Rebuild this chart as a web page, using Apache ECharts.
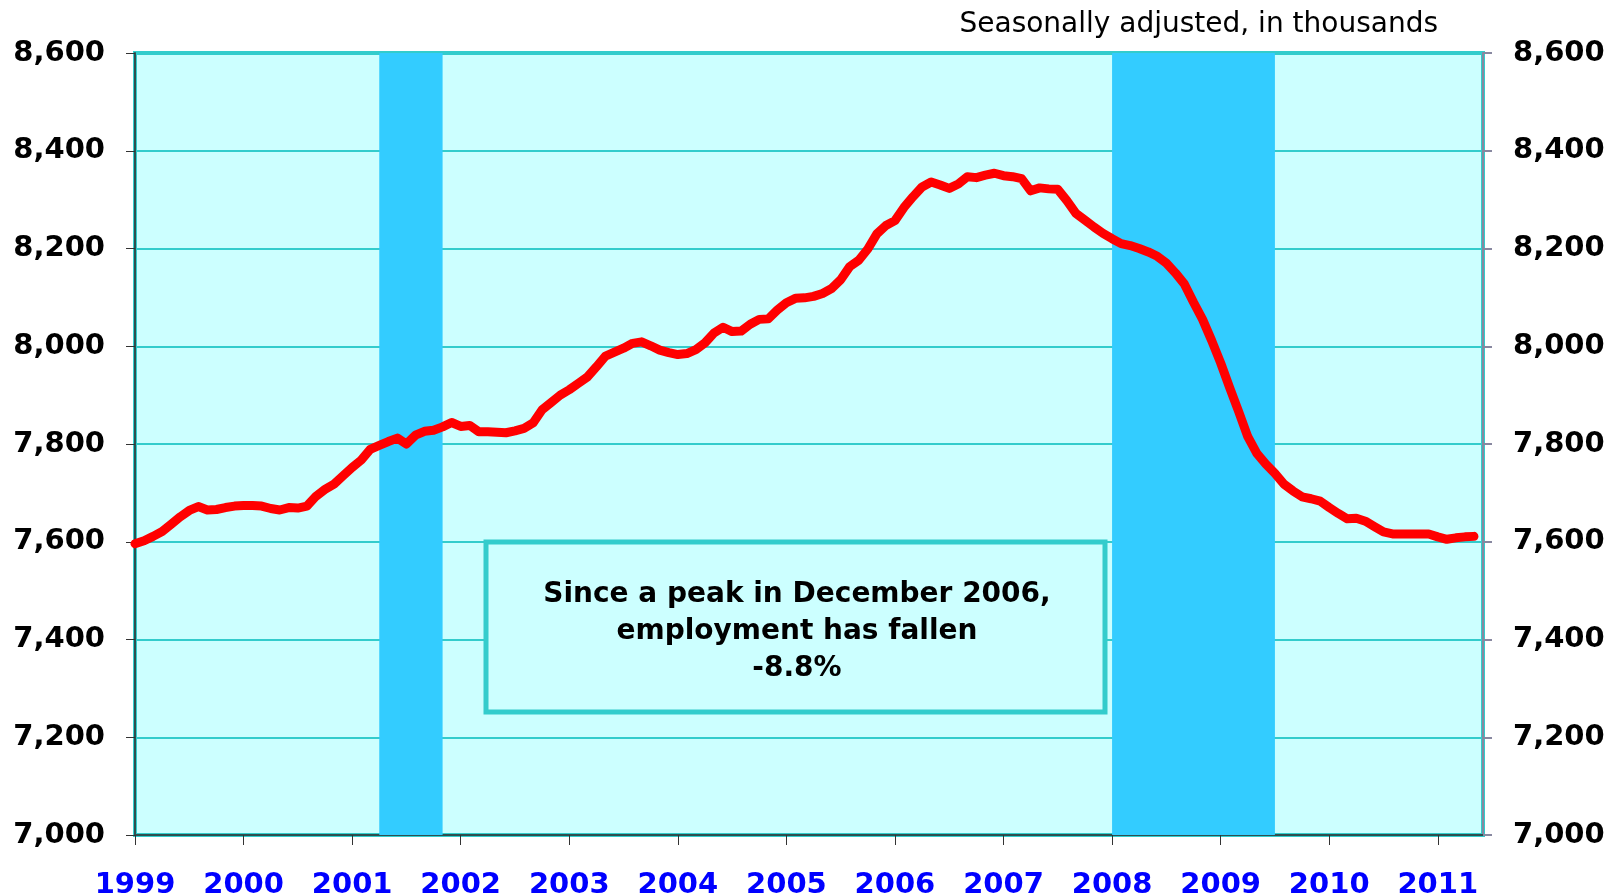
<!DOCTYPE html>
<html>
<head>
<meta charset="utf-8">
<script src="https://cdn.jsdelivr.net/npm/echarts@6/dist/echarts.min.js"></script>
<style>
  html, body { margin: 0; padding: 0; background: #fff; }
  #chart { width: 1623px; height: 895px; }
</style>
</head>
<body>
<div id="chart"></div>
<script>
// tick years on the x axis
const years = [1999, 2000, 2001, 2002, 2003, 2004, 2005, 2006, 2007, 2008, 2009, 2010, 2011];

// monthly categories, Jan 1999 .. Jun 2011 (axis runs one month past the last value)
const months = [];
years.forEach(y => {
  for (let m = 1; m <= 12; m++) months.push(y + '-' + String(m).padStart(2, '0'));
});
months.length = 150;

// employment, seasonally adjusted, thousands (Jan 1999 .. May 2011)
const employment = [
  7596, 7602, 7611, 7621, 7636, 7651, 7664, 7672, 7665, 7666, 7670, 7673,
  7674, 7674, 7673, 7668, 7665, 7670, 7669, 7673, 7693, 7707, 7718, 7735,
  7752, 7767, 7789, 7797, 7805, 7812, 7800, 7818, 7826, 7828, 7835, 7844,
  7836, 7838, 7825, 7825, 7824, 7823, 7827, 7832, 7843, 7870, 7885, 7900,
  7911, 7924, 7937, 7958, 7980, 7988, 7996, 8006, 8009, 8001, 7992, 7987,
  7983, 7985, 7993, 8007, 8027, 8039, 8030, 8031, 8045, 8055, 8056, 8074,
  8089, 8098, 8099, 8102, 8108, 8118, 8136, 8163, 8176, 8199, 8230, 8247,
  8257, 8284, 8306, 8326, 8336, 8330, 8323, 8332, 8347, 8345, 8350, 8354,
  8349, 8347, 8343, 8318, 8324, 8322, 8321, 8298, 8272, 8258, 8244, 8231,
  8220, 8210, 8206, 8200, 8193, 8184, 8170, 8150, 8127, 8090, 8055, 8012,
  7966, 7915, 7866, 7815, 7781, 7759, 7740, 7718, 7704, 7692, 7688, 7683,
  7670, 7658, 7647, 7648, 7642, 7631, 7620, 7616, 7616, 7616, 7616, 7616,
  7610, 7605, 7608, 7610, 7611
];

// shaded recession periods [start, end]
const recessions = [['2001-04', '2001-11'], ['2008-01', '2009-07']];

const yMin = 7000, yMax = 8600, yStep = 200;

const note = ['Since a peak in December 2006,', 'employment has fallen', '-8.8%'];
const subtitle = 'Seasonally adjusted, in thousands';

const chart = echarts.init(document.getElementById('chart'));

const yLabel = {
  margin: 30,
  fontSize: 29,
  fontWeight: 'bold',
  color: '#000',
  fontFamily: 'DejaVu Sans',
  formatter: v => v.toLocaleString('en-US')
};

chart.setOption({
  animation: false,
  backgroundColor: '#fff',
  title: {
    text: subtitle,
    right: 180,
    top: 6,
    textStyle: { fontSize: 28, fontWeight: 'normal', color: '#000', fontFamily: 'DejaVu Sans' }
  },
  grid: {
    left: 135, right: 140, top: 53, bottom: 60,
    outerBoundsMode: 'none',
    show: true,
    backgroundColor: '#CCFFFF',
    borderColor: '#33CCCC',
    borderWidth: 4
  },
  xAxis: {
    type: 'category',
    data: months,
    boundaryGap: false,
    axisLine: { lineStyle: { color: '#2f4f4f', width: 2 } },
    axisTick: {
      length: 10,
      interval: i => i % 12 === 0,
      lineStyle: { color: '#333', width: 1 }
    },
    axisLabel: {
      interval: i => i % 12 === 0,
      margin: 36,
      fontSize: 29,
      fontWeight: 'bold',
      color: '#0000FF',
      fontFamily: 'DejaVu Sans',
      formatter: v => v.slice(0, 4)
    },
    splitLine: { show: false }
  },
  yAxis: [
    {
      type: 'value',
      min: yMin, max: yMax, interval: yStep,
      axisLine: { show: true, lineStyle: { color: '#2f4f4f', width: 2 } },
      axisTick: { show: true, length: 9, lineStyle: { color: '#333' } },
      axisLabel: yLabel,
      splitLine: { lineStyle: { color: '#33CCCC', width: 2 } }
    },
    {
      type: 'value',
      position: 'right',
      min: yMin, max: yMax, interval: yStep,
      axisLine: { show: true, lineStyle: { color: '#8888a0', width: 2 } },
      axisTick: { show: true, length: 9, lineStyle: { color: '#8888a0', width: 2 } },
      axisLabel: yLabel,
      splitLine: { show: false }
    }
  ],
  series: [
    {
      type: 'line',
      data: employment,
      symbol: 'none',
      lineStyle: { color: '#FF0000', width: 9, cap: 'round', join: 'round' },
      markArea: {
        silent: true,
        itemStyle: { color: '#33CCFF', opacity: 1 },
        data: recessions.map(r => [{ xAxis: r[0] }, { xAxis: r[1] }])
      }
    }
  ],
  graphic: [
    {
      type: 'rect',
      z: 100,
      shape: { x: 486, y: 542, width: 619, height: 170 },
      style: { fill: '#CCFFFF', stroke: '#33CCCC', lineWidth: 5 }
    },
    {
      type: 'text',
      z: 101,
      x: 797,
      y: 632,
      style: {
        text: note.join('\n'),
        font: 'bold 28px "DejaVu Sans"',
        lineHeight: 37,
        fill: '#000',
        align: 'center',
        verticalAlign: 'middle'
      }
    }
  ]
});
</script>
</body>
</html>
